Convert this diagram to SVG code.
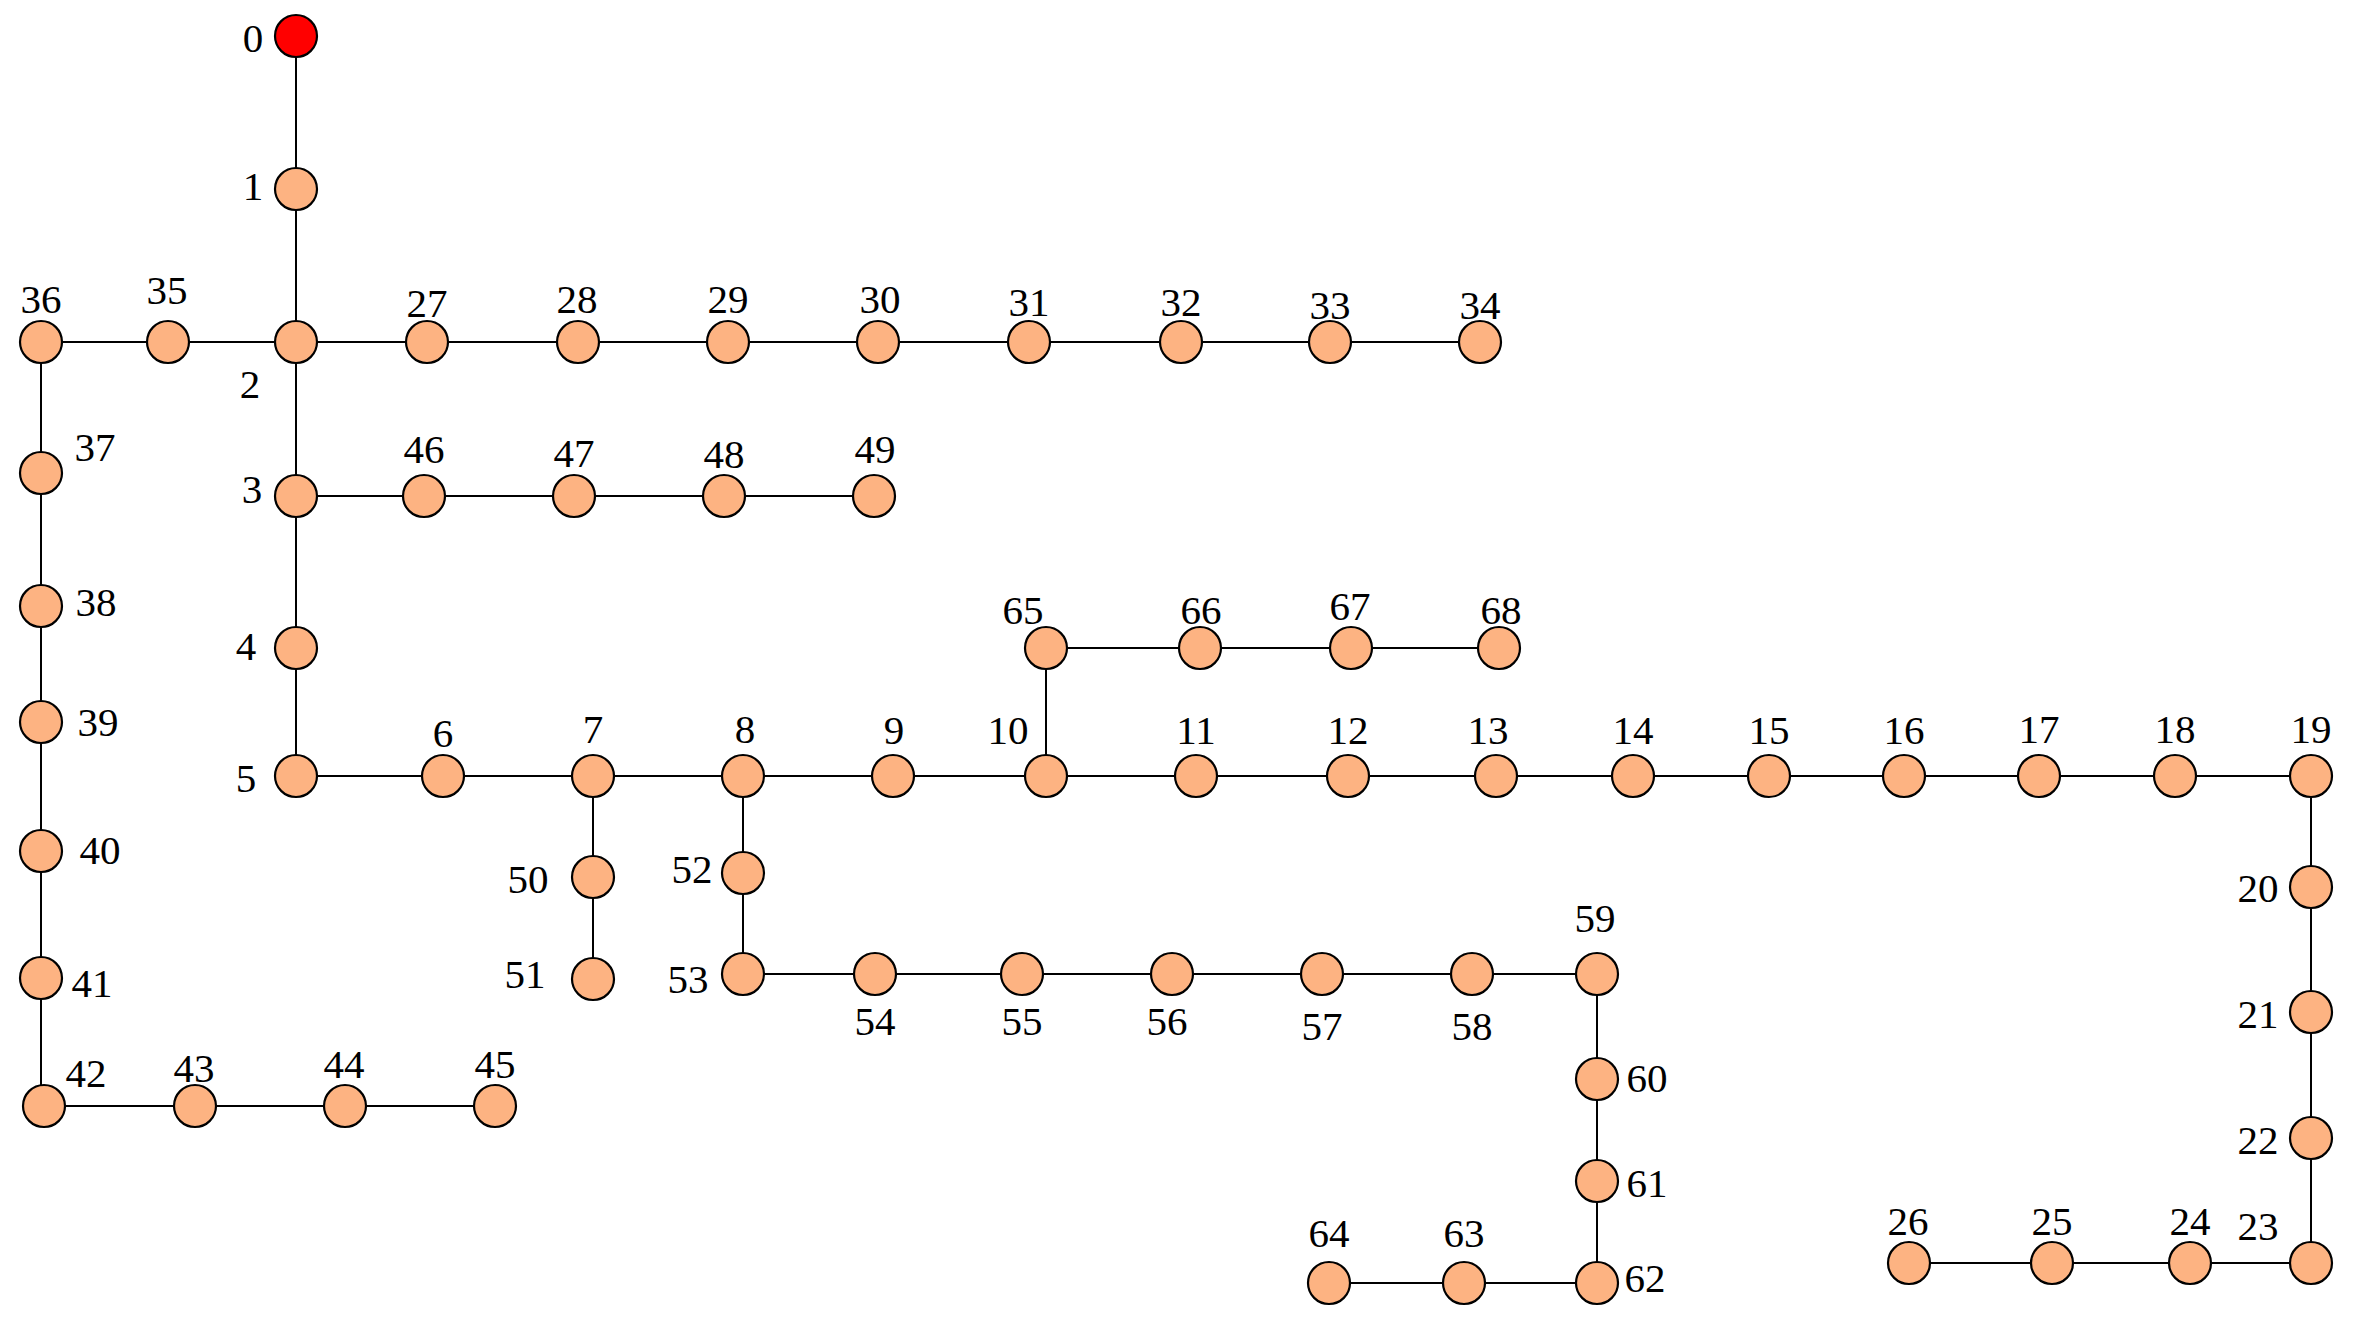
<svg xmlns="http://www.w3.org/2000/svg" width="2353" height="1324" viewBox="0 0 2353 1324" font-family="'Liberation Serif', 'Times New Roman', serif">
<style>
.n{fill:#FDB382;stroke:#000;stroke-width:2.2}
.r{fill:#FF0000;stroke:#000;stroke-width:2.2}
text{font-family:'Liberation Serif','Times New Roman',serif;font-size:41px;fill:#000;text-anchor:middle}
.e polyline{stroke:#000;stroke-width:2;fill:none}
</style>
<rect width="2353" height="1324" fill="#fff"/>
<g class="e" id="connectors">
<polyline points="296,36 296,496 296,776 2311,776 2311,1263 1909,1263"/>
<polyline points="296,342 1480,342"/>
<polyline points="296,342 41,342 41,1106 495,1106"/>
<polyline points="296,496 874,496"/>
<polyline points="593,776 593,979"/>
<polyline points="743,776 743,974 1597,974 1597,1283 1329,1283"/>
<polyline points="1046,776 1046,648 1499,648"/>
</g>
<g id="node-0"><circle class="r" cx="296" cy="36" r="21"/><text x="253" y="52">0</text></g>
<g id="node-1"><circle class="n" cx="296" cy="189" r="21"/><text x="253" y="200">1</text></g>
<g id="node-2"><circle class="n" cx="296" cy="342" r="21"/><text x="250" y="398">2</text></g>
<g id="node-3"><circle class="n" cx="296" cy="496" r="21"/><text x="252" y="503">3</text></g>
<g id="node-4"><circle class="n" cx="296" cy="648" r="21"/><text x="246" y="660">4</text></g>
<g id="node-5"><circle class="n" cx="296" cy="776" r="21"/><text x="246" y="792">5</text></g>
<g id="node-6"><circle class="n" cx="443" cy="776" r="21"/><text x="443" y="747">6</text></g>
<g id="node-7"><circle class="n" cx="593" cy="776" r="21"/><text x="593" y="743">7</text></g>
<g id="node-8"><circle class="n" cx="743" cy="776" r="21"/><text x="745" y="743">8</text></g>
<g id="node-9"><circle class="n" cx="893" cy="776" r="21"/><text x="894" y="744">9</text></g>
<g id="node-10"><circle class="n" cx="1046" cy="776" r="21"/><text x="1008" y="744">10</text></g>
<g id="node-11"><circle class="n" cx="1196" cy="776" r="21"/><text x="1196" y="744">11</text></g>
<g id="node-12"><circle class="n" cx="1348" cy="776" r="21"/><text x="1348" y="744">12</text></g>
<g id="node-13"><circle class="n" cx="1496" cy="776" r="21"/><text x="1488" y="744">13</text></g>
<g id="node-14"><circle class="n" cx="1633" cy="776" r="21"/><text x="1633" y="744">14</text></g>
<g id="node-15"><circle class="n" cx="1769" cy="776" r="21"/><text x="1769" y="744">15</text></g>
<g id="node-16"><circle class="n" cx="1904" cy="776" r="21"/><text x="1904" y="744">16</text></g>
<g id="node-17"><circle class="n" cx="2039" cy="776" r="21"/><text x="2039" y="743">17</text></g>
<g id="node-18"><circle class="n" cx="2175" cy="776" r="21"/><text x="2175" y="743">18</text></g>
<g id="node-19"><circle class="n" cx="2311" cy="776" r="21"/><text x="2311" y="743">19</text></g>
<g id="node-20"><circle class="n" cx="2311" cy="887" r="21"/><text x="2258" y="902">20</text></g>
<g id="node-21"><circle class="n" cx="2311" cy="1012" r="21"/><text x="2258" y="1028">21</text></g>
<g id="node-22"><circle class="n" cx="2311" cy="1138" r="21"/><text x="2258" y="1154">22</text></g>
<g id="node-23"><circle class="n" cx="2311" cy="1263" r="21"/><text x="2258" y="1240">23</text></g>
<g id="node-24"><circle class="n" cx="2190" cy="1263" r="21"/><text x="2190" y="1235">24</text></g>
<g id="node-25"><circle class="n" cx="2052" cy="1263" r="21"/><text x="2052" y="1235">25</text></g>
<g id="node-26"><circle class="n" cx="1909" cy="1263" r="21"/><text x="1908" y="1235">26</text></g>
<g id="node-27"><circle class="n" cx="427" cy="342" r="21"/><text x="427" y="317">27</text></g>
<g id="node-28"><circle class="n" cx="578" cy="342" r="21"/><text x="577" y="313">28</text></g>
<g id="node-29"><circle class="n" cx="728" cy="342" r="21"/><text x="728" y="313">29</text></g>
<g id="node-30"><circle class="n" cx="878" cy="342" r="21"/><text x="880" y="313">30</text></g>
<g id="node-31"><circle class="n" cx="1029" cy="342" r="21"/><text x="1029" y="316">31</text></g>
<g id="node-32"><circle class="n" cx="1181" cy="342" r="21"/><text x="1181" y="316">32</text></g>
<g id="node-33"><circle class="n" cx="1330" cy="342" r="21"/><text x="1330" y="319">33</text></g>
<g id="node-34"><circle class="n" cx="1480" cy="342" r="21"/><text x="1480" y="319">34</text></g>
<g id="node-35"><circle class="n" cx="168" cy="342" r="21"/><text x="167" y="304">35</text></g>
<g id="node-36"><circle class="n" cx="41" cy="342" r="21"/><text x="41" y="313">36</text></g>
<g id="node-37"><circle class="n" cx="41" cy="473" r="21"/><text x="95" y="461">37</text></g>
<g id="node-38"><circle class="n" cx="41" cy="606" r="21"/><text x="96" y="616">38</text></g>
<g id="node-39"><circle class="n" cx="41" cy="722" r="21"/><text x="98" y="736">39</text></g>
<g id="node-40"><circle class="n" cx="41" cy="851" r="21"/><text x="100" y="864">40</text></g>
<g id="node-41"><circle class="n" cx="41" cy="978" r="21"/><text x="92" y="997">41</text></g>
<g id="node-42"><circle class="n" cx="44" cy="1106" r="21"/><text x="86" y="1087">42</text></g>
<g id="node-43"><circle class="n" cx="195" cy="1106" r="21"/><text x="194" y="1082">43</text></g>
<g id="node-44"><circle class="n" cx="345" cy="1106" r="21"/><text x="344" y="1078">44</text></g>
<g id="node-45"><circle class="n" cx="495" cy="1106" r="21"/><text x="495" y="1078">45</text></g>
<g id="node-46"><circle class="n" cx="424" cy="496" r="21"/><text x="424" y="463">46</text></g>
<g id="node-47"><circle class="n" cx="574" cy="496" r="21"/><text x="574" y="467">47</text></g>
<g id="node-48"><circle class="n" cx="724" cy="496" r="21"/><text x="724" y="468">48</text></g>
<g id="node-49"><circle class="n" cx="874" cy="496" r="21"/><text x="875" y="463">49</text></g>
<g id="node-50"><circle class="n" cx="593" cy="877" r="21"/><text x="528" y="893">50</text></g>
<g id="node-51"><circle class="n" cx="593" cy="979" r="21"/><text x="525" y="988">51</text></g>
<g id="node-52"><circle class="n" cx="743" cy="873" r="21"/><text x="692" y="883">52</text></g>
<g id="node-53"><circle class="n" cx="743" cy="974" r="21"/><text x="688" y="993">53</text></g>
<g id="node-54"><circle class="n" cx="875" cy="974" r="21"/><text x="875" y="1035">54</text></g>
<g id="node-55"><circle class="n" cx="1022" cy="974" r="21"/><text x="1022" y="1035">55</text></g>
<g id="node-56"><circle class="n" cx="1172" cy="974" r="21"/><text x="1167" y="1035">56</text></g>
<g id="node-57"><circle class="n" cx="1322" cy="974" r="21"/><text x="1322" y="1040">57</text></g>
<g id="node-58"><circle class="n" cx="1472" cy="974" r="21"/><text x="1472" y="1040">58</text></g>
<g id="node-59"><circle class="n" cx="1597" cy="974" r="21"/><text x="1595" y="932">59</text></g>
<g id="node-60"><circle class="n" cx="1597" cy="1079" r="21"/><text x="1647" y="1092">60</text></g>
<g id="node-61"><circle class="n" cx="1597" cy="1181" r="21"/><text x="1647" y="1197">61</text></g>
<g id="node-62"><circle class="n" cx="1597" cy="1283" r="21"/><text x="1645" y="1292">62</text></g>
<g id="node-63"><circle class="n" cx="1464" cy="1283" r="21"/><text x="1464" y="1247">63</text></g>
<g id="node-64"><circle class="n" cx="1329" cy="1283" r="21"/><text x="1329" y="1247">64</text></g>
<g id="node-65"><circle class="n" cx="1046" cy="648" r="21"/><text x="1023" y="624">65</text></g>
<g id="node-66"><circle class="n" cx="1200" cy="648" r="21"/><text x="1201" y="624">66</text></g>
<g id="node-67"><circle class="n" cx="1351" cy="648" r="21"/><text x="1350" y="620">67</text></g>
<g id="node-68"><circle class="n" cx="1499" cy="648" r="21"/><text x="1501" y="624">68</text></g>
</svg>
